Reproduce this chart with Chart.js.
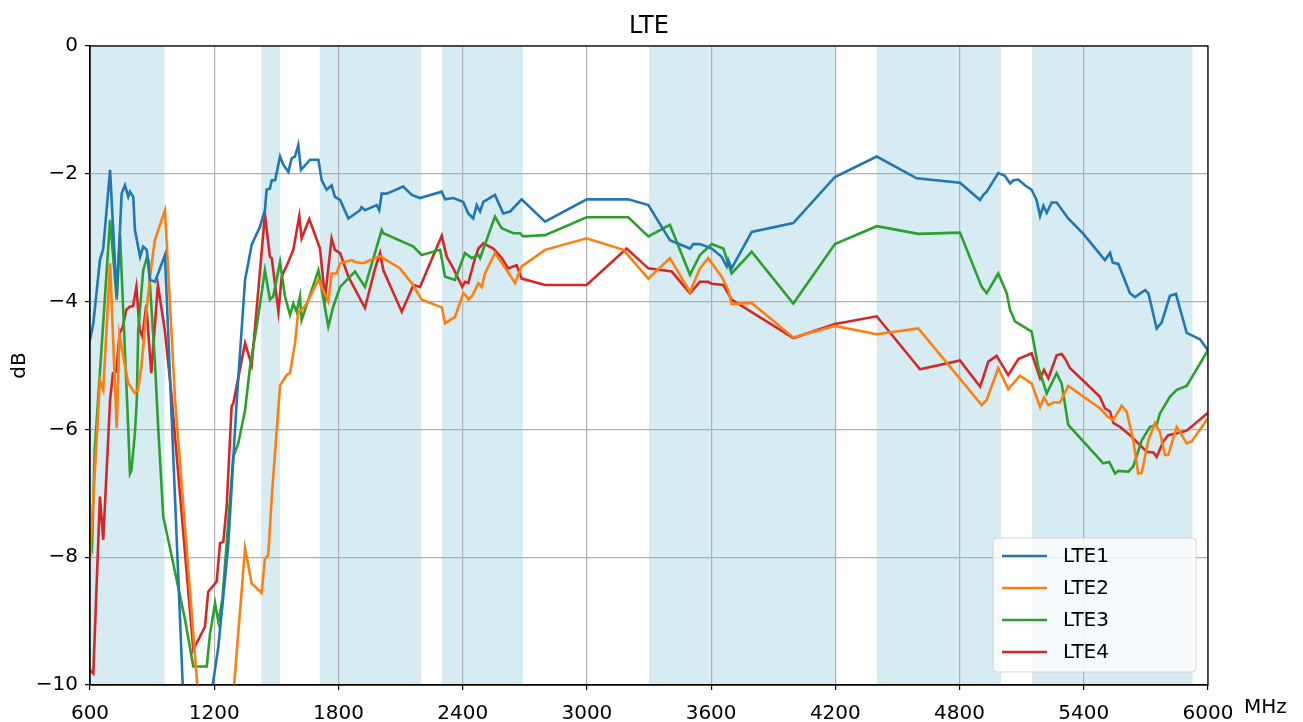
<!DOCTYPE html>
<html>
<head>
<meta charset="utf-8">
<script src="https://cdn.jsdelivr.net/npm/chart.js@4.4.1/dist/chart.umd.min.js"></script>
<style>
  html, body { margin: 0; padding: 0; background: #ffffff; }
  #wrap { width: 1303px; height: 722px; position: relative; }
</style>
</head>
<body>
<div id="wrap"><canvas id="lteChart"></canvas></div>
<script>
// 频段阴影 (MHz)
const bandStartMhz = [600, 1427, 1710, 2300, 3300, 4400, 5150];
const bandEndMhz   = [960, 1518, 2200, 2690, 4200, 5000, 5925];

// x / y 刻度
const xTicksMhz = [600, 1200, 1800, 2400, 3000, 3600, 4200, 4800, 5400, 6000];
const yTicksDb  = [-10, -8, -6, -4, -2, 0];

const seriesNames  = ['LTE1', 'LTE2', 'LTE3', 'LTE4'];
const seriesColors = ['#1f77b4', '#ff7f0e', '#2ca02c', '#d62728'];

// [MHz, dB]
const lte1 = [
  [600,-4.60],[616,-4.34],[648,-3.35],[664,-3.17],[697,-1.94],[729,-3.92],[753,-2.31],[769,-2.18],
  [785,-2.36],[793,-2.28],[809,-2.36],[817,-2.88],[842,-3.30],[857,-3.14],[874,-3.19],[890,-3.66],
  [914,-3.69],[962,-3.27],[1049,-10.08],[1120,-12.5],[1194,-9.97],[1220,-9.40],[1242,-8.67],[1267,-7.84],
  [1309,-5.54],[1349,-3.66],[1381,-3.11],[1421,-2.83],[1445,-2.57],[1453,-2.25],[1469,-2.23],[1478,-2.10],
  [1494,-2.10],[1518,-1.73],[1534,-1.86],[1558,-1.97],[1574,-1.76],[1590,-1.73],[1606,-1.55],[1619,-1.94],
  [1663,-1.78],[1703,-1.78],[1719,-2.10],[1743,-2.25],[1767,-2.18],[1783,-2.36],[1808,-2.41],[1848,-2.70],
  [1904,-2.57],[1912,-2.52],[1928,-2.57],[1985,-2.49],[1997,-2.57],[2009,-2.31],[2033,-2.31],[2113,-2.20],
  [2154,-2.33],[2194,-2.38],[2299,-2.28],[2315,-2.40],[2355,-2.38],[2403,-2.44],[2427,-2.62],[2451,-2.70],
  [2468,-2.49],[2484,-2.59],[2500,-2.44],[2556,-2.33],[2596,-2.62],[2629,-2.59],[2685,-2.40],[2798,-2.75],
  [2999,-2.40],[3200,-2.40],[3297,-2.49],[3401,-3.04],[3498,-3.17],[3514,-3.10],[3546,-3.10],[3603,-3.17],
  [3651,-3.30],[3675,-3.45],[3683,-3.35],[3699,-3.48],[3796,-2.91],[3997,-2.77],[4198,-2.05],[4400,-1.73],
  [4593,-2.07],[4802,-2.14],[4899,-2.41],[4915,-2.33],[4931,-2.28],[4987,-1.99],[5019,-2.03],[5044,-2.15],
  [5060,-2.10],[5084,-2.09],[5116,-2.18],[5148,-2.25],[5172,-2.41],[5189,-2.66],[5205,-2.50],[5221,-2.61],
  [5245,-2.45],[5269,-2.45],[5325,-2.70],[5398,-2.94],[5502,-3.35],[5527,-3.24],[5540,-3.39],[5567,-3.41],
  [5623,-3.87],[5647,-3.93],[5696,-3.82],[5712,-3.87],[5752,-4.42],[5776,-4.33],[5816,-3.91],[5845,-3.88],
  [5897,-4.49],[5961,-4.59],[6000,-4.76]
];

const lte2 = [
  [600,-8.04],[640,-5.70],[648,-5.23],[664,-5.38],[697,-3.40],[729,-5.98],[742,-4.52],[784,-5.27],
  [816,-5.43],[832,-5.38],[848,-5.02],[872,-4.18],[888,-3.66],[913,-3.04],[962,-2.57],[1011,-5.54],
  [1115,-9.87],[1200,-13.0],[1296,-10.0],[1349,-7.86],[1381,-8.41],[1429,-8.56],[1445,-8.02],[1461,-7.97],
  [1478,-7.05],[1518,-5.31],[1550,-5.15],[1566,-5.12],[1590,-4.65],[1606,-4.16],[1622,-4.13],[1647,-4.03],
  [1703,-3.66],[1751,-4.00],[1767,-3.56],[1791,-3.56],[1808,-3.40],[1864,-3.35],[1880,-3.38],[1920,-3.40],
  [1977,-3.32],[2001,-3.29],[2017,-3.32],[2097,-3.48],[2154,-3.71],[2202,-3.97],[2299,-4.09],[2315,-4.34],
  [2363,-4.24],[2403,-3.87],[2420,-3.92],[2427,-3.97],[2444,-3.92],[2460,-3.82],[2476,-3.71],[2492,-3.77],
  [2508,-3.56],[2556,-3.24],[2613,-3.51],[2653,-3.71],[2685,-3.45],[2798,-3.19],[2999,-3.01],[3176,-3.19],
  [3297,-3.64],[3401,-3.32],[3498,-3.85],[3546,-3.48],[3586,-3.32],[3651,-3.61],[3683,-3.82],[3699,-4.04],
  [3796,-4.02],[3997,-4.56],[4198,-4.38],[4400,-4.51],[4601,-4.42],[4907,-5.62],[4931,-5.54],[4987,-5.04],
  [5035,-5.37],[5092,-5.16],[5148,-5.28],[5189,-5.65],[5208,-5.50],[5229,-5.62],[5253,-5.58],[5285,-5.58],
  [5325,-5.32],[5478,-5.67],[5518,-5.81],[5543,-5.85],[5583,-5.63],[5607,-5.72],[5639,-6.17],[5663,-6.69],
  [5680,-6.68],[5712,-6.17],[5744,-5.90],[5768,-6.04],[5792,-6.40],[5808,-6.40],[5849,-5.96],[5897,-6.22],
  [5921,-6.19],[6000,-5.82]
];

const lte3 = [
  [600,-7.65],[610,-7.81],[623,-6.32],[697,-2.72],[729,-3.97],[745,-2.96],[785,-6.01],[793,-6.69],
  [800,-6.64],[817,-6.06],[826,-5.54],[833,-4.44],[857,-3.51],[874,-3.32],[882,-3.35],[914,-4.97],
  [930,-6.01],[954,-7.37],[995,-7.99],[1059,-8.98],[1099,-9.71],[1164,-9.71],[1180,-9.19],[1204,-8.72],
  [1220,-9.01],[1239,-8.67],[1292,-6.43],[1316,-6.22],[1349,-5.70],[1373,-5.02],[1405,-4.39],[1445,-3.51],
  [1469,-3.97],[1485,-3.92],[1518,-3.38],[1542,-3.92],[1566,-4.21],[1582,-4.03],[1598,-4.16],[1614,-3.92],
  [1622,-4.29],[1703,-3.51],[1751,-4.39],[1775,-4.08],[1808,-3.77],[1880,-3.53],[1928,-3.77],[2009,-2.88],
  [2017,-2.93],[2162,-3.14],[2202,-3.27],[2291,-3.19],[2315,-3.61],[2363,-3.66],[2411,-3.24],[2444,-3.32],
  [2476,-3.27],[2484,-3.32],[2556,-2.67],[2588,-2.85],[2645,-2.93],[2677,-2.93],[2692,-2.98],[2798,-2.96],
  [2999,-2.68],[3200,-2.68],[3297,-2.98],[3401,-2.80],[3498,-3.58],[3546,-3.27],[3603,-3.10],[3659,-3.17],
  [3683,-3.40],[3699,-3.56],[3796,-3.22],[3997,-4.03],[4198,-3.10],[4400,-2.82],[4601,-2.94],[4802,-2.92],
  [4907,-3.77],[4931,-3.87],[4987,-3.56],[5028,-3.87],[5044,-4.13],[5068,-4.31],[5148,-4.47],[5180,-5.02],
  [5221,-5.44],[5269,-5.12],[5293,-5.28],[5325,-5.93],[5494,-6.53],[5523,-6.51],[5551,-6.69],[5567,-6.65],
  [5615,-6.66],[5639,-6.58],[5680,-6.17],[5720,-5.96],[5752,-5.93],[5768,-5.75],[5816,-5.49],[5849,-5.38],
  [5897,-5.32],[6000,-4.76]
];

const lte4 = [
  [600,-9.77],[616,-9.82],[648,-7.05],[664,-7.73],[697,-5.54],[711,-5.12],[727,-5.10],[743,-4.50],
  [759,-4.39],[775,-4.13],[792,-4.08],[808,-4.07],[824,-3.77],[840,-4.44],[853,-4.55],[872,-4.05],
  [896,-5.12],[928,-3.74],[961,-4.44],[993,-5.44],[1099,-9.45],[1155,-9.09],[1171,-8.54],[1212,-8.38],
  [1228,-7.78],[1244,-7.76],[1260,-7.21],[1284,-5.64],[1292,-5.59],[1349,-4.65],[1381,-4.99],[1445,-2.64],
  [1469,-3.30],[1478,-3.32],[1510,-4.16],[1526,-3.61],[1558,-3.38],[1582,-3.19],[1611,-2.66],[1622,-3.01],
  [1659,-2.71],[1711,-3.17],[1735,-3.95],[1767,-3.01],[1783,-3.19],[1808,-3.24],[1848,-3.61],[1928,-4.10],
  [1977,-3.48],[2001,-3.24],[2017,-3.51],[2106,-4.16],[2162,-3.74],[2194,-3.77],[2299,-2.97],[2323,-3.30],
  [2355,-3.48],[2398,-3.77],[2411,-3.69],[2427,-3.71],[2460,-3.32],[2476,-3.17],[2500,-3.09],[2548,-3.17],
  [2589,-3.32],[2620,-3.48],[2661,-3.43],[2685,-3.64],[2798,-3.74],[2999,-3.74],[3192,-3.17],[3297,-3.48],
  [3410,-3.53],[3498,-3.87],[3546,-3.69],[3586,-3.69],[3603,-3.72],[3659,-3.74],[3691,-3.92],[3699,-3.97],
  [3997,-4.57],[4198,-4.35],[4400,-4.23],[4609,-5.06],[4802,-4.92],[4899,-5.33],[4915,-5.18],[4939,-4.94],
  [4979,-4.85],[5035,-5.15],[5084,-4.90],[5148,-4.81],[5189,-5.20],[5208,-5.07],[5229,-5.20],[5269,-4.84],
  [5293,-4.82],[5309,-4.89],[5333,-5.04],[5478,-5.49],[5502,-5.67],[5527,-5.72],[5543,-5.90],[5575,-5.96],
  [5623,-6.09],[5704,-6.35],[5736,-6.36],[5752,-6.43],[5784,-6.19],[5808,-6.09],[5849,-6.06],[5897,-6.02],
  [6000,-5.74]
];

const allSeries = [lte1, lte2, lte3, lte4];
const FONT = "'DejaVu Sans', sans-serif";

// 频段阴影插件 (画在网格之前)
const bandPlugin = {
  id: 'bands',
  beforeDraw(chart) {
    const { ctx, chartArea, scales } = chart;
    ctx.save();
    ctx.fillStyle = 'rgba(173, 216, 230, 0.5)';
    for (let i = 0; i < bandStartMhz.length; i++) {
      const x0 = scales.x.getPixelForValue(bandStartMhz[i]);
      const x1 = scales.x.getPixelForValue(bandEndMhz[i]);
      ctx.fillRect(x0, chartArea.top, x1 - x0, chartArea.bottom - chartArea.top);
    }
    ctx.restore();
  }
};

// 边框、标题、单位、图例
const framePlugin = {
  id: 'frame',
  afterDraw(chart) {
    const { ctx, chartArea } = chart;
    ctx.save();
    ctx.strokeStyle = '#000';
    ctx.lineWidth = 1.25;
    ctx.strokeRect(chartArea.left, chartArea.top, chartArea.right - chartArea.left, chartArea.bottom - chartArea.top);

    ctx.fillStyle = '#000';
    ctx.font = '24px ' + FONT;
    ctx.textAlign = 'center';
    ctx.textBaseline = 'alphabetic';
    ctx.fillText('LTE', (chartArea.left + chartArea.right) / 2, 33);

    ctx.font = '20px ' + FONT;
    ctx.textAlign = 'left';
    ctx.fillText('MHz', chartArea.right + 36, 713);

    // legend
    const lx = 993, ly = 538, lw = 203, lh = 134;
    ctx.beginPath();
    ctx.roundRect(lx, ly, lw, lh, 4);
    ctx.fillStyle = 'rgba(255,255,255,0.8)';
    ctx.fill();
    ctx.strokeStyle = 'rgba(204,204,204,0.8)';
    ctx.lineWidth = 1;
    ctx.stroke();
    chart.data.datasets.forEach((ds, i) => {
      const y = 556 + i * 32;
      ctx.strokeStyle = ds.borderColor;
      ctx.lineWidth = 2.5;
      ctx.beginPath();
      ctx.moveTo(1002, y);
      ctx.lineTo(1047, y);
      ctx.stroke();
      ctx.fillStyle = '#000';
      ctx.font = '20px ' + FONT;
      ctx.textAlign = 'left';
      ctx.textBaseline = 'middle';
      ctx.fillText(ds.label, 1063, y + 1);
    });
    ctx.restore();
  }
};

document.addEventListener('DOMContentLoaded', function() {
  const ctx = document.getElementById('lteChart').getContext('2d');

  const datasets = allSeries.map((pts, i) => ({
    label: seriesNames[i],
    data: pts.map(p => ({ x: p[0], y: p[1] })),
    borderColor: seriesColors[i],
    backgroundColor: seriesColors[i],
    borderWidth: 2.6,
    pointRadius: 0,
    tension: 0,
    clip: 0
  }));

  new Chart(ctx, {
    type: 'line',
    data: { datasets: datasets },
    options: {
      responsive: true,
      maintainAspectRatio: false,
      animation: false,
      layout: { padding: { left: 0, right: 95, top: 46, bottom: 0 } },
      plugins: {
        legend: { display: false },
        title: { display: false },
        tooltip: { enabled: false }
      },
      scales: {
        x: {
          type: 'linear',
          min: 600,
          max: 6000,
          afterBuildTicks: (scale) => { scale.ticks = xTicksMhz.map(v => ({ value: v })); },
          afterFit: (scale) => { scale.height = 37; },
          ticks: {
            color: '#000',
            font: { family: FONT, size: 20 },
            padding: 12,
            maxRotation: 0,
            autoSkip: false,
            callback: (v) => String(v)
          },
          grid: { color: '#b0b0b0', lineWidth: 1.2, tickColor: '#000', tickLength: 5, tickWidth: 1.2 },
          border: { color: '#000', width: 1.25 }
        },
        y: {
          min: -10,
          max: 0,
          afterBuildTicks: (scale) => { scale.ticks = yTicksDb.map(v => ({ value: v })); },
          afterFit: (scale) => { scale.width = 90; },
          ticks: {
            color: '#000',
            font: { family: FONT, size: 20 },
            padding: 7,
            callback: (v) => (v < 0 ? '\u2212' + Math.abs(v) : String(v))
          },
          title: {
            display: true,
            text: 'dB',
            color: '#000',
            font: { family: FONT, size: 20 },
            padding: { top: 8, bottom: 0 }
          },
          grid: { color: '#b0b0b0', lineWidth: 1.2, tickColor: '#000', tickLength: 5, tickWidth: 1.2 },
          border: { color: '#000', width: 1.25 }
        }
      }
    },
    plugins: [bandPlugin, framePlugin]
  });
});
</script>
</body>
</html>
